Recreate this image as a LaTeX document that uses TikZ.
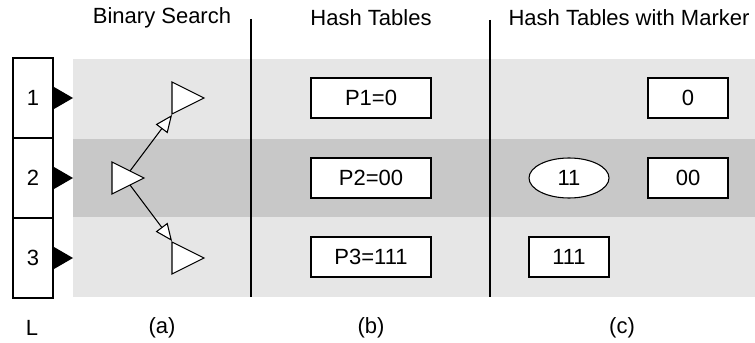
\documentclass[tikz,border=0pt]{standalone}
\usepackage{fontspec}
\setmainfont{Liberation Sans}
\usetikzlibrary{arrows.meta,shapes.geometric}
\definecolor{BandLight}{RGB}{230,230,230}
\definecolor{BandDark}{RGB}{200,200,200}
\begin{document}
\begin{tikzpicture}[x=0.75pt,y=-0.75pt,
  font=\fontsize{16.5}{20}\selectfont,
  cell/.style={draw,fill=white,line width=0.8pt,minimum width=30pt,minimum height=60pt,inner sep=0pt},
  entry/.style={draw,fill=white,line width=0.8pt,minimum width=90pt,minimum height=30pt,inner sep=0pt},
  mentry/.style={entry,minimum width=60pt},
  marker/.style={ellipse,draw,fill=white,line width=0.8pt,minimum width=60pt,minimum height=30pt,inner sep=0pt},
  probe/.style={draw,fill=white,line width=0.8pt},
  search/.style={-{Triangle[length=13pt,width=11pt,fill=white]},line width=0.8pt}]
\useasboundingbox (0,0) rectangle (755,342);
\fill[BandLight] (73,59) rectangle (755,297);
\fill[BandDark] (73,139) rectangle (755,217);
\draw[line width=0.8pt] (251,19)--(251,297);\draw[line width=0.8pt] (490,20)--(490,297);
% titles
\node (tA) at (162,18){Binary Search};\node (tB) at (371,18){Hash Tables};\node (tC) at (629,18){Hash Tables with Marker};
% levels
\node[cell] (l1) at (33,98){1};\node[cell] (l2) at (33,178){2};\node[cell] (l3) at (33,258){3};
\foreach \y in {98,178,258}{\fill (54,\y-11)--(73,\y)--(54,\y+11)--cycle;}
% binary search
\draw[probe] (112,162)--(144,178)--(112,194)--cycle;
\draw[probe] (172,82)--(204,98)--(172,114)--cycle;
\draw[probe] (172,242)--(204,258)--(172,274)--cycle;
\coordinate (up) at (130,171);\coordinate (dn) at (130,185);
\coordinate (top) at (172,115);\coordinate (bot) at (172,241);
\draw[search] (up)--(top);\draw[search] (dn)--(bot);
% hash tables
\node[entry] (p1) at (371,98){P1=0};\node[entry] (p2) at (371,178){P2=00};\node[entry] (p3) at (371,257){P3=111};
% with marker
\node[mentry] (m1) at (688,98){0};\node[mentry] (m2) at (688,178){00};
\node[marker] (mk) at (569,178){11};\node[mentry] (m3) at (569,257){111};
% captions
\node (cL) at (32,328){L};\node (ca) at (162,328){(a)};\node (cb) at (371,328){(b)};\node (cc) at (622,328){(c)};
\end{tikzpicture}
\end{document}
